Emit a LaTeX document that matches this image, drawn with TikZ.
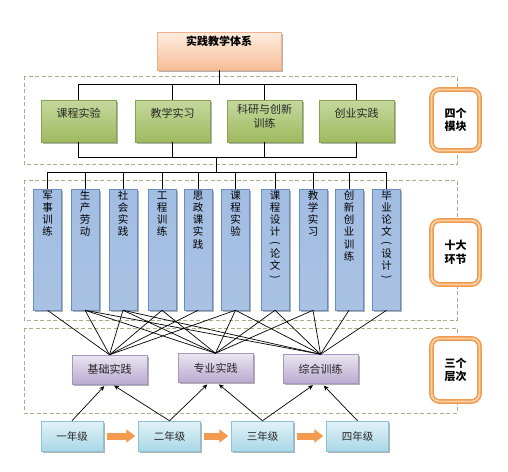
\documentclass[tikz,border=0pt]{standalone}
\usepackage{fontspec}
\usepackage{graphicx}
\newfontfamily\cjk{Noto Sans CJK SC}
\usetikzlibrary{shadows,arrows.meta}
\definecolor{mainT}{HTML}{FDECDF}
\definecolor{mainB}{HTML}{F7BE98}
\definecolor{mainD}{HTML}{F2B088}
\definecolor{grnT}{HTML}{C6D89E}
\definecolor{grnB}{HTML}{9DBA5E}
\definecolor{grnD}{HTML}{86A352}
\definecolor{bluT}{HTML}{A2BDE2}
\definecolor{bluM}{HTML}{7399CC}
\definecolor{bluB}{HTML}{A9C2E3}
\definecolor{bluD}{HTML}{6A8DBF}
\definecolor{purT}{HTML}{EAE5F0}
\definecolor{purB}{HTML}{B9AAD0}
\definecolor{purD}{HTML}{A596BF}
\definecolor{yrT}{HTML}{E2F2F7}
\definecolor{yrB}{HTML}{A9D8E6}
\definecolor{yrD}{HTML}{8CC4D5}
\definecolor{orA}{HTML}{F29A4E}
\definecolor{orL}{HTML}{F9CFA6}
\definecolor{regD}{HTML}{A8AD8A}
\definecolor{txt}{HTML}{262626}
\newcommand\boxtxt[2]{\raisebox{#1}[0pt][0pt]{#2}}
\newcommand\vtxt[1]{\parbox[t]{14pt}{\centering\fontsize{10.5}{12.3}\selectfont #1}}
\newcommand\vpo{\raisebox{5pt}{\rotatebox{-90}{(}}}
\newcommand\vpc{\raisebox{5pt}{\rotatebox{-90}{)}}}
\begin{document}
\begin{tikzpicture}[x=1pt,y=-1pt,
  font=\cjk\fontsize{11}{13}\selectfont,
  every node/.style={inner sep=0pt, text=txt},
  boxshadow/.style={drop shadow={shadow xshift=1.6pt,shadow yshift=-1.8pt,fill=black!55,opacity=0.55}},
  mainbox/.style={draw=mainD, line width=0.5pt, top color=mainT, bottom color=mainB,
    minimum width=124pt, minimum height=38pt, boxshadow, font=\cjk\bfseries\fontsize{11}{13}\selectfont, text=black},
  greenbox/.style={draw=grnD, line width=0.5pt, top color=grnT, bottom color=grnB,
    minimum width=75pt, minimum height=42pt, boxshadow},
  bluebox/.style={draw=bluD, line width=0.5pt, top color=bluT, middle color=bluM, bottom color=bluB,
    minimum width=28pt, minimum height=121pt, boxshadow, text=black},
  purplebox/.style={draw=purD, line width=0.5pt, top color=purT, bottom color=purB,
    minimum width=75pt, minimum height=29pt, boxshadow},
  yearbox/.style={draw=yrD, line width=0.5pt, top color=yrT, bottom color=yrB,
    minimum width=62pt, minimum height=30pt, boxshadow, font=\cjk\fontsize{10.5}{12}\selectfont},
  sidebox/.style={draw=orA, line width=1.5pt, double=orL, double distance=1.8pt, fill=white,
    rounded corners=8pt, minimum width=48pt, font=\cjk\bfseries\fontsize{11}{13}\selectfont, text=black},
  region/.style={draw=regD, line width=0.6pt, dash pattern=on 4pt off 2.5pt},
  conn/.style={draw=black, line width=0.9pt},
  thinconn/.style={draw=black, line width=0.7pt},
  uparr/.style={draw=black, line width=0.7pt, -{Stealth[length=5pt,width=4.5pt]}, shorten >=2.5pt},
  orarr/.style={draw=orA, line width=7pt, -{Triangle[length=9pt,width=13pt]}, shorten <=3.5pt, shorten >=3pt}
]
\fill[white] (0,0) rectangle (508,471);
\useasboundingbox (0,0) rectangle (508,471);

% dashed regions
\draw[region] (24,76) rectangle (457,164);
\draw[region] (24,180) rectangle (457,320);
\draw[region] (24,328) rectangle (457,413);

% top box
\node[mainbox] (main) at (219,51) {\boxtxt{6pt}{实践教学体系}};

% four modules
\node[greenbox] (g1) at (78.5,121) {\boxtxt{4pt}{课程实验}};
\node[greenbox] (g2) at (172.5,121) {\boxtxt{4pt}{教学实习}};
\node[greenbox] (g3) at (264.5,121) {\boxtxt{-6pt}{\shortstack{科研与创新\\训练}}};
\node[greenbox] (g4) at (356.5,121) {\boxtxt{4pt}{创业实践}};

% ten links
\node[bluebox] (b1) at (47.5,249.5) {\boxtxt{50.5pt}{\vtxt{军\\事\\训\\练}}};
\node[bluebox] (b2) at (85,249.5) {\boxtxt{50.5pt}{\vtxt{生\\产\\劳\\动}}};
\node[bluebox] (b3) at (123,249.5) {\boxtxt{50.5pt}{\vtxt{社\\会\\实\\践}}};
\node[bluebox] (b4) at (162,249.5) {\boxtxt{50.5pt}{\vtxt{工\\程\\训\\练}}};
\node[bluebox] (b5) at (198,249.5) {\boxtxt{50.5pt}{\vtxt{思\\政\\课\\实\\践}}};
\node[bluebox] (b6) at (235.5,249.5) {\boxtxt{50.5pt}{\vtxt{课\\程\\实\\验}}};
\node[bluebox] (b7) at (275,249.5) {\boxtxt{50.5pt}{\vtxt{课\\程\\设\\计\\[-2pt]\vpo\\[-1pt]论\\文\\[-2pt]\vpc}}};
\node[bluebox] (b8) at (313,249.5) {\boxtxt{50.5pt}{\vtxt{教\\学\\实\\习}}};
\node[bluebox] (b9) at (349,249.5) {\boxtxt{50.5pt}{\vtxt{创\\新\\创\\业\\训\\练}}};
\node[bluebox] (b10) at (386.5,249.5) {\boxtxt{50.5pt}{\vtxt{毕\\业\\论\\文\\[-2pt]\vpo\\[-1pt]设\\计\\[-2pt]\vpc}}};

% three levels
\node[purplebox] (p1) at (109.5,369.5) {基础实践};
\node[purplebox] (p2) at (215.5,368) {专业实践};
\node[purplebox] (p3) at (320.5,369) {综合训练};

% years
\node[yearbox] (y1) at (72,436) {一年级};
\node[yearbox] (y2) at (169.5,436) {二年级};
\node[yearbox] (y3) at (262.5,436) {三年级};
\node[yearbox] (y4) at (357.5,436) {四年级};

% side labels
\node[sidebox, minimum height=61pt] (s1) at (455.5,120) {\shortstack{四个\\模块}};
\node[sidebox, minimum height=64pt] (s2) at (455.5,252.5) {\shortstack{十大\\环节}};
\node[sidebox, minimum height=63pt] (s3) at (455.5,370) {\shortstack{三个\\层次}};

% tree connectors
\coordinate (j0) at (219,84);
\coordinate (j1) at (216,157);
\coordinate (j2) at (216,172);
\draw[conn] (main.south) -- (j0);
\foreach \g in {g1,g2,g3,g4} \draw[conn] (j0) -| (\g.north);
\foreach \g in {g1,g2,g3,g4} \draw[conn] (\g.south) |- (j1);
\draw[conn] (j1) -- (j2);
\foreach \b in {b1,b2,b3,b4,b5,b6,b7,b8,b9,b10} \draw[conn] (j2) -| (\b.north);

% links to levels
\foreach \b in {b1,b2,b3,b4,b5,b6} \draw[thinconn] (\b.south) -- (p1.north);
\foreach \b in {b2,b3,b4,b6,b7,b8} \draw[thinconn] (\b.south) -- (p2.north);
\foreach \b in {b2,b3,b6,b7,b8,b9,b10} \draw[thinconn] (\b.south) -- (p3.north);

% years to levels
\draw[uparr] (y1.north) -- ([xshift=-3.5pt]p1.south);
\draw[uparr] (y2.north) -- ([xshift=2.5pt]p1.south);
\draw[uparr] (y2.north) -- ([xshift=-6.5pt]p2.south);
\draw[uparr] (y3.north) -- ([xshift=1.5pt]p2.south);
\draw[uparr] (y3.north) -- ([xshift=-5.5pt]p3.south);
\draw[uparr] (y4.north) -- ([xshift=1.5pt]p3.south);

% year progression
\draw[orarr] (y1.east) -- (y2.west);
\draw[orarr] (y2.east) -- (y3.west);
\draw[orarr] (y3.east) -- (y4.west);
\end{tikzpicture}
\end{document}
